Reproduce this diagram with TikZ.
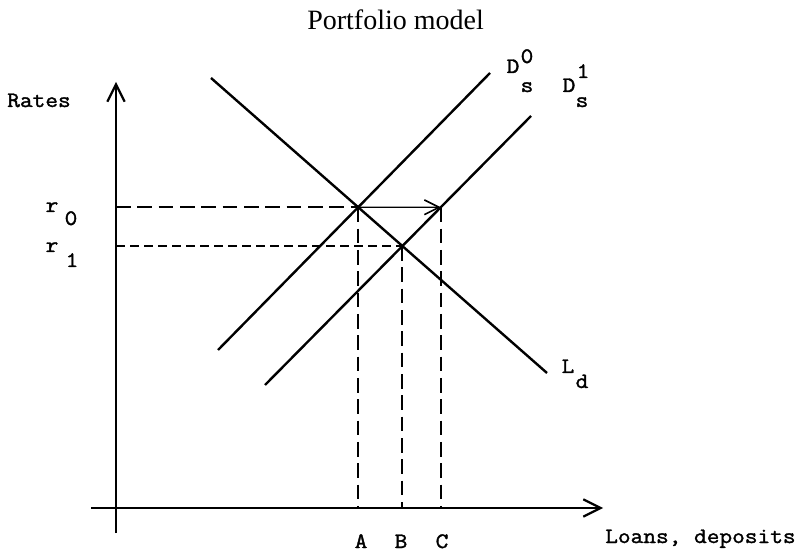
\documentclass[tikz,border=0pt]{standalone}
\usepackage{fontspec}
\setmainfont{Liberation Serif}
\newfontfamily\tw[FakeStretch=1.12,FakeBold=1.6]{Latin Modern Mono}
\usetikzlibrary{arrows.meta}
\begin{document}
\begin{tikzpicture}[x=0.75pt,y=-0.75pt,
  curve/.style={line width=1.8pt},
  axis/.style={line width=1.8pt,-{Straight Barb[length=13pt,width=13pt,line width=1.6pt]}},
  guide/.style={line width=1.5pt,dash pattern=on 11pt off 5pt},
  fineguide/.style={line width=1.1pt,dash pattern=on 7pt off 3.5pt},
  shiftarrow/.style={line width=1pt,-{Straight Barb[length=11pt,width=11pt,line width=1.2pt]}},
  lab/.style={font=\tw\fontsize{16.5}{19}\selectfont,inner sep=0pt,anchor=base},
  ]
\useasboundingbox (0,0) rectangle (803,555);

% axes
\coordinate (o) at (116,508);
\coordinate (ytop) at (116,82);
\coordinate (ybot) at (116,533);
\coordinate (xleft) at (91,508);
\coordinate (xright) at (603,508);
\draw[axis] (ybot) -- (ytop);
\draw[axis] (xleft) -- (xright);

% curves
\coordinate (lda) at (211,78);
\coordinate (ldb) at (547,373);
\coordinate (dsa) at (218,350);
\coordinate (dsb) at (490,73);
\coordinate (dta) at (265,385);
\coordinate (dtb) at (531,116);
\draw[curve] (lda) -- (ldb);
\draw[curve] (dsa) -- (dsb);
\draw[curve] (dta) -- (dtb);

% equilibria
\coordinate (e0) at (intersection of lda--ldb and dsa--dsb);
\coordinate (e1) at (intersection of lda--ldb and dta--dtb);
\coordinate (far) at (e0 -| xright);
\coordinate (c) at (intersection of e0--far and dta--dtb);

% guides
\draw[guide] (o |- e0) -- (e0);
\draw[fineguide] (o |- e1) -- (e1);
\draw[guide] (e0) -- (e0 |- o);
\draw[guide] (e1) -- (e1 |- o);
\draw[guide] (c) -- (c |- o);
\draw[shiftarrow] (e0) -- (c);

% labels
\node[anchor=base west,font=\fontsize{21}{25}\selectfont,inner sep=0pt] (title) at (307,30) {Portfolio model};
\node[lab,anchor=base west] (rates) at (7,107) {Rates};
\node[lab] (r0) at (52,212) {r};
\node[lab] (r0sub) at (71,225) {0};
\node[lab] (r1) at (52,252) {r};
\node[lab] (r1sub) at (72,267) {1};
\node[lab] (d0) at (513,73) {D};
\node[lab] (d0sup) at (527,63) {0};
\node[lab] (d0sub) at (527,92) {s};
\node[lab] (d1) at (569,92) {D};
\node[lab] (d1sup) at (583,78) {1};
\node[lab] (d1sub) at (582,107) {s};
\node[lab] (ld) at (568,373) {L};
\node[lab] (ldsub) at (582,388) {d};
\node[lab] (la) at (361,548) {A};
\node[lab] (lb) at (401,548) {B};
\node[lab] (lc) at (442,548) {C};
\node[lab,anchor=base west] (xlab) at (605,543) {Loans, deposits};
\end{tikzpicture}
\end{document}
